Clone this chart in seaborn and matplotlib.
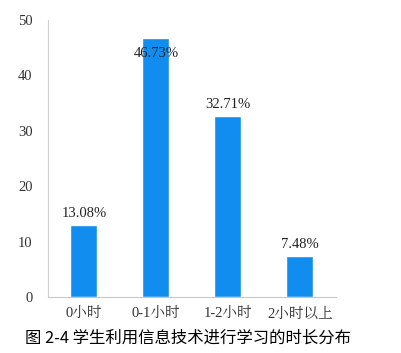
import matplotlib
matplotlib.use('Agg')
import matplotlib.pyplot as plt
import seaborn as sns
import pandas as pd
import numpy as np

# data
categories = ['0小时', '0-1小时', '1-2小时', '2小时以上']
values = [13.08, 46.73, 32.71, 7.48]
value_labels = ['13.08%', '46.73%', '32.71%', '7.48%']
yticks = [0, 10, 20, 30, 40, 50]
caption = '图 2-4 学生利用信息技术进行学习的时长分布'

sns.set_style('white')
plt.rcParams['font.family'] = ['Liberation Serif', 'Noto Serif CJK SC', 'Noto Sans CJK SC', 'DejaVu Sans']

df = pd.DataFrame({'cat': categories, 'val': values})

fig = plt.figure(figsize=(4.02, 3.53), dpi=100)
ax = fig.add_axes([0.1194, 0.1586, 0.7164, 0.7847])
sns.barplot(data=df, x='cat', y='val', color='#118DF0', saturation=1, width=0.375, ax=ax)

ax.set_ylim(0, 50)
ax.set_xlim(-0.5, len(categories) - 0.5)
ax.set_yticks(yticks)
ax.set_xlabel('')
ax.set_ylabel('')

# value labels (the tallest one sits inside the bar, as in the original)
for i, (v, lab) in enumerate(zip(values, value_labels)):
    y = min(v + 2.0, 44.0)
    ax.text(i, y, lab, ha='center', va='center', fontsize=10.5, color='#222222')

# spines and ticks
for s in ['top', 'right']:
    ax.spines[s].set_visible(False)
ax.spines['left'].set_color('#d0d0d0')
ax.spines['bottom'].set_color('#c8c8c8')
ax.tick_params(axis='y', length=0, pad=11, labelsize=10.5, labelcolor='#333333')
ax.tick_params(axis='x', which='major', length=0, pad=7, labelsize=10.5, labelcolor='#333333')
ax.set_xticks(np.arange(-0.5, len(categories), 1.0), minor=True)
ax.tick_params(axis='x', which='minor', length=6.5, width=0.8, color='#c8c8c8', direction='out')

fig.text(0.062, 0.042, caption, fontsize=11.8, color='black',
         family=['Noto Sans CJK SC', 'DejaVu Sans'], ha='left', va='center')

plt.savefig('out.png', dpi=100)
